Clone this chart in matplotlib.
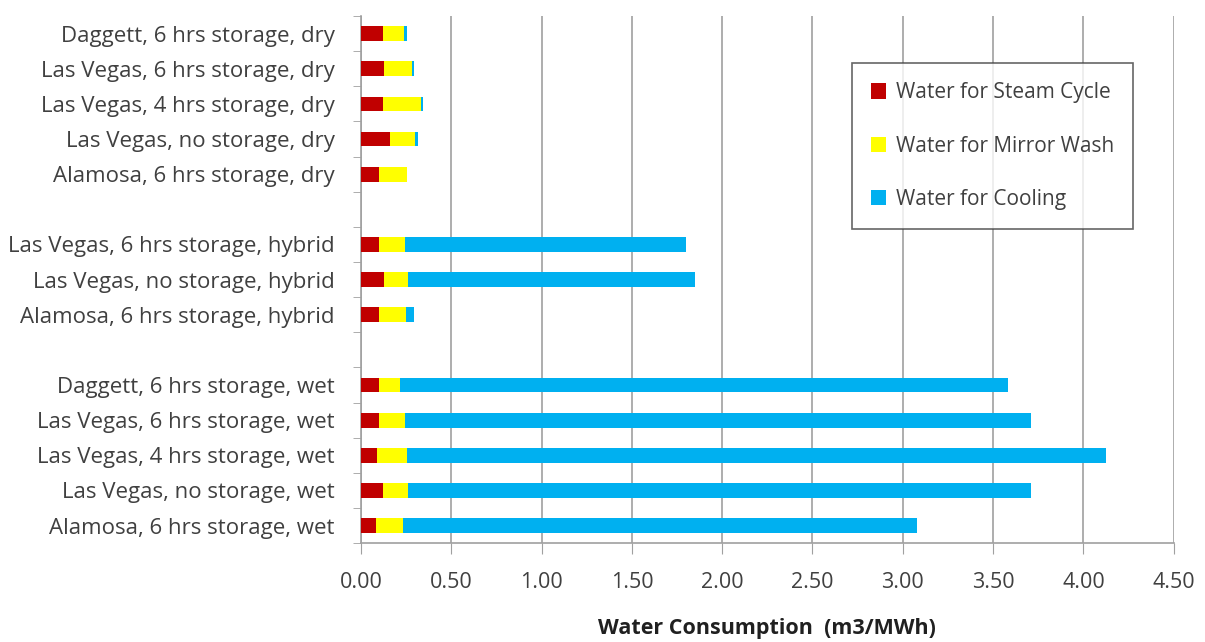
import matplotlib.pyplot as plt
import numpy as np

plt.rcParams['font.family'] = ['Open Sans', 'DejaVu Sans']

# rows from top to bottom, '' marks the gap rows between groups
categories = ['Daggett, 6 hrs storage, dry',
              'Las Vegas, 6 hrs storage, dry',
              'Las Vegas, 4 hrs storage, dry',
              'Las Vegas, no storage, dry',
              'Alamosa, 6 hrs storage, dry',
              '',
              'Las Vegas, 6 hrs storage, hybrid',
              'Las Vegas, no storage, hybrid',
              'Alamosa, 6 hrs storage, hybrid',
              '',
              'Daggett, 6 hrs storage, wet',
              'Las Vegas, 6 hrs storage, wet',
              'Las Vegas, 4 hrs storage, wet',
              'Las Vegas, no storage, wet',
              'Alamosa, 6 hrs storage, wet']
steam = [0.12, 0.13, 0.12, 0.16, 0.10, 0,
         0.10, 0.13, 0.10, 0,
         0.10, 0.10, 0.09, 0.12, 0.085]
mirror = [0.12, 0.15, 0.21, 0.14, 0.155, 0,
          0.145, 0.13, 0.15, 0,
          0.115, 0.145, 0.165, 0.14, 0.15]
cooling = [0.013, 0.012, 0.014, 0.013, 0, 0,
           1.555, 1.59, 0.042, 0,
           3.37, 3.465, 3.87, 3.45, 2.845]
series_names = ['Water for Steam Cycle', 'Water for Mirror Wash', 'Water for Cooling']
xticks = [0.0, 0.5, 1.0, 1.5, 2.0, 2.5, 3.0, 3.5, 4.0, 4.5]

colors = ['#C00000', '#FFFF00', '#00B0F0']
txt = '#404040'

fig = plt.figure(figsize=(12.05, 6.42), dpi=100)
ax = fig.add_axes([0.2996, 0.154, 0.6744, 0.821])

y = np.arange(len(categories))
h = 0.42
steam = np.array(steam)
mirror = np.array(mirror)
cooling = np.array(cooling)
ax.barh(y, steam, height=h, color=colors[0], label=series_names[0], zorder=3)
ax.barh(y, mirror, height=h, left=steam, color=colors[1], label=series_names[1], zorder=3)
ax.barh(y, cooling, height=h, left=steam + mirror, color=colors[2], label=series_names[2], zorder=3)

ax.set_ylim(len(categories) - 0.5, -0.5)
ax.set_xlim(0, 4.5)
ax.set_yticks(y)
ax.set_yticklabels(categories, fontsize=16, color=txt)
ax.set_yticks(np.arange(len(categories) + 1) - 0.5, minor=True)
ax.tick_params(axis='y', which='major', length=0, pad=19)
ax.tick_params(axis='y', which='minor', length=6, color='#A0A0A0', direction='out')

ax.set_xticks(xticks)
ax.set_xticklabels(['%.2f' % v for v in xticks], fontsize=15.5, color=txt)
ax.tick_params(axis='x', length=8, color='#A0A0A0', direction='out', pad=13)
ax.xaxis.grid(True, color='#A0A0A0', linewidth=1.2, zorder=0)

for side in ['top', 'right']:
    ax.spines[side].set_visible(False)
for side in ['left', 'bottom']:
    ax.spines[side].set_color('#A0A0A0')
    ax.spines[side].set_linewidth(1.2)

ax.set_xlabel('Water Consumption  (m3/MWh)', fontsize=15.5, fontweight='bold',
              color='#202020', labelpad=18)

leg = ax.legend(loc='upper left', bbox_to_anchor=(0.604, 0.91), fontsize=15,
                frameon=True, fancybox=False, edgecolor='#404040',
                handlelength=0.75, handleheight=0.75, handletextpad=0.45,
                labelspacing=1.55, borderpad=0.9, borderaxespad=0)
leg.get_frame().set_linewidth(1.2)
for t in leg.get_texts():
    t.set_color(txt)

plt.savefig('out.png', dpi=100)
